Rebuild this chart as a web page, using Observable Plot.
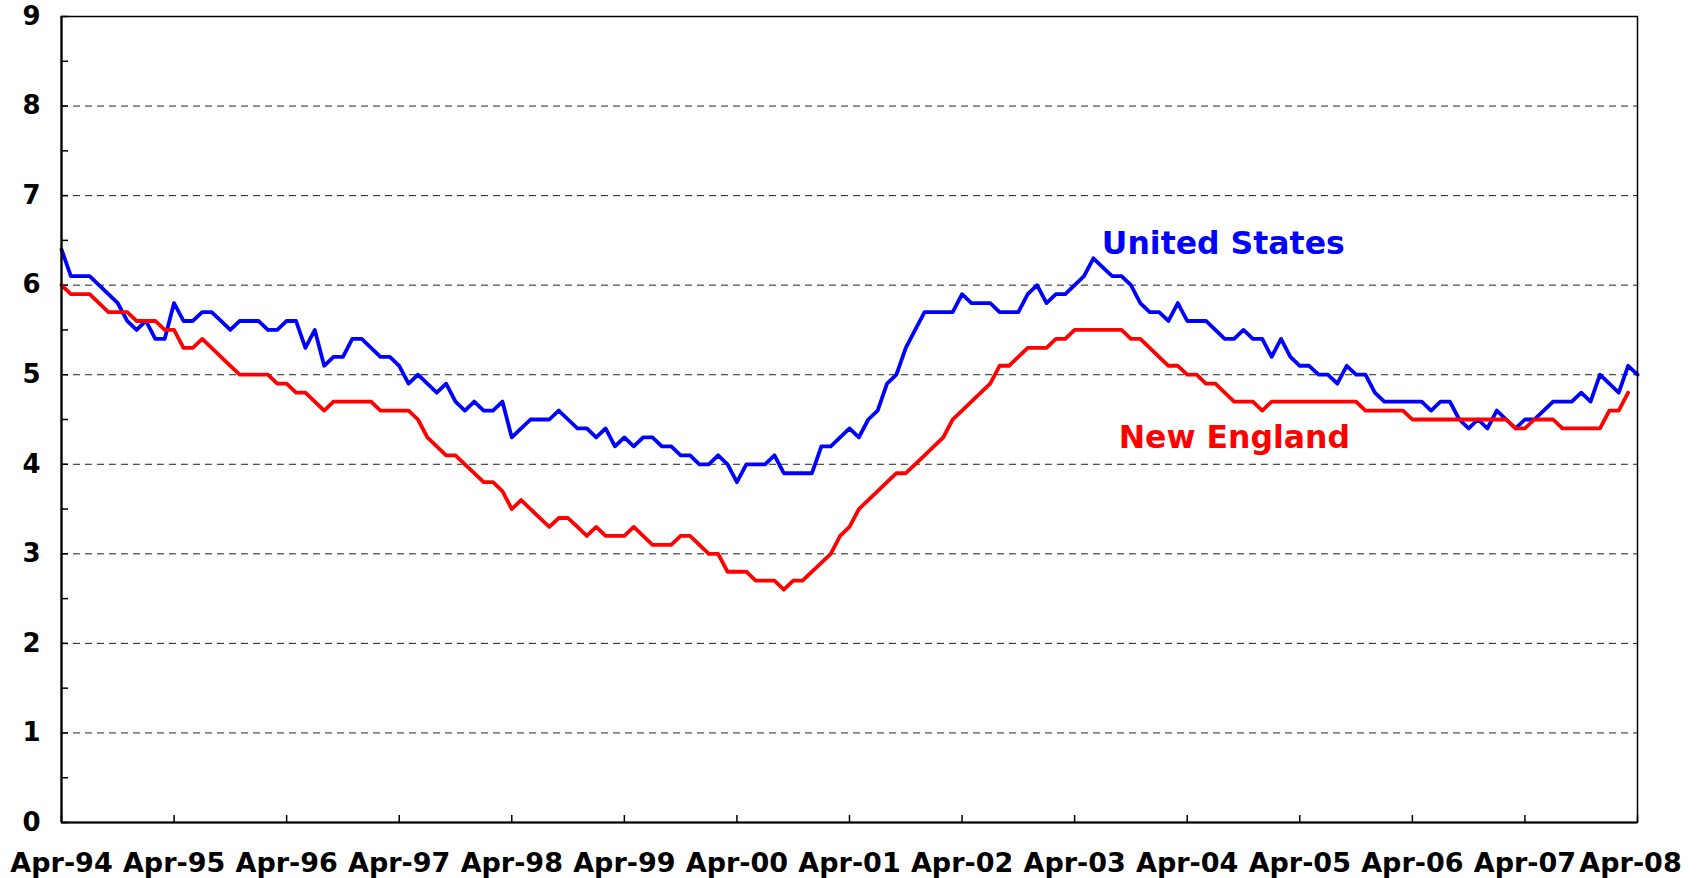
<!DOCTYPE html>
<html>
<head>
<meta charset="utf-8">
<script src="https://cdn.jsdelivr.net/npm/d3@7"></script>
<script src="https://cdn.jsdelivr.net/npm/@observablehq/plot@0.6"></script>
<style>
  html, body { margin: 0; padding: 0; background: #ffffff; }
  svg { display: block; }
</style>
</head>
<body>
<div id="chart"></div>
<script>
// Year tick labels (one every 12 months, starting Apr-94)
const tickLabels = ["Apr-94","Apr-95","Apr-96","Apr-97","Apr-98","Apr-99","Apr-00",
  "Apr-01","Apr-02","Apr-03","Apr-04","Apr-05","Apr-06","Apr-07","Apr-08"];

// Monthly unemployment rate, United States, Apr-94 .. Apr-08
const unitedStates = [
  6.4,6.1,6.1,6.1,6.0,5.9,5.8,5.6,5.5,5.6,5.4,5.4,
  5.8,5.6,5.6,5.7,5.7,5.6,5.5,5.6,5.6,5.6,5.5,5.5,
  5.6,5.6,5.3,5.5,5.1,5.2,5.2,5.4,5.4,5.3,5.2,5.2,
  5.1,4.9,5.0,4.9,4.8,4.9,4.7,4.6,4.7,4.6,4.6,4.7,
  4.3,4.4,4.5,4.5,4.5,4.6,4.5,4.4,4.4,4.3,4.4,4.2,
  4.3,4.2,4.3,4.3,4.2,4.2,4.1,4.1,4.0,4.0,4.1,4.0,
  3.8,4.0,4.0,4.0,4.1,3.9,3.9,3.9,3.9,4.2,4.2,4.3,
  4.4,4.3,4.5,4.6,4.9,5.0,5.3,5.5,5.7,5.7,5.7,5.7,
  5.9,5.8,5.8,5.8,5.7,5.7,5.7,5.9,6.0,5.8,5.9,5.9,
  6.0,6.1,6.3,6.2,6.1,6.1,6.0,5.8,5.7,5.7,5.6,5.8,
  5.6,5.6,5.6,5.5,5.4,5.4,5.5,5.4,5.4,5.2,5.4,5.2,
  5.1,5.1,5.0,5.0,4.9,5.1,5.0,5.0,4.8,4.7,4.7,4.7,
  4.7,4.7,4.6,4.7,4.7,4.5,4.4,4.5,4.4,4.6,4.5,4.4,
  4.5,4.5,4.6,4.7,4.7,4.7,4.8,4.7,5.0,4.9,4.8,5.1,
  5.0
];

// Monthly unemployment rate, New England, Apr-94 .. Mar-08
const newEngland = [
  6.0,5.9,5.9,5.9,5.8,5.7,5.7,5.7,5.6,5.6,5.6,5.5,
  5.5,5.3,5.3,5.4,5.3,5.2,5.1,5.0,5.0,5.0,5.0,4.9,
  4.9,4.8,4.8,4.7,4.6,4.7,4.7,4.7,4.7,4.7,4.6,4.6,
  4.6,4.6,4.5,4.3,4.2,4.1,4.1,4.0,3.9,3.8,3.8,3.7,
  3.5,3.6,3.5,3.4,3.3,3.4,3.4,3.3,3.2,3.3,3.2,3.2,
  3.2,3.3,3.2,3.1,3.1,3.1,3.2,3.2,3.1,3.0,3.0,2.8,
  2.8,2.8,2.7,2.7,2.7,2.6,2.7,2.7,2.8,2.9,3.0,3.2,
  3.3,3.5,3.6,3.7,3.8,3.9,3.9,4.0,4.1,4.2,4.3,4.5,
  4.6,4.7,4.8,4.9,5.1,5.1,5.2,5.3,5.3,5.3,5.4,5.4,
  5.5,5.5,5.5,5.5,5.5,5.5,5.4,5.4,5.3,5.2,5.1,5.1,
  5.0,5.0,4.9,4.9,4.8,4.7,4.7,4.7,4.6,4.7,4.7,4.7,
  4.7,4.7,4.7,4.7,4.7,4.7,4.7,4.6,4.6,4.6,4.6,4.6,
  4.5,4.5,4.5,4.5,4.5,4.5,4.5,4.5,4.5,4.5,4.5,4.4,
  4.4,4.5,4.5,4.5,4.4,4.4,4.4,4.4,4.4,4.6,4.6,4.8
];

const seriesNames = ["United States", "New England"];
const seriesColors = ["#0000ff", "#ff0000"];

const yTicks = [0,1,2,3,4,5,6,7,8,9];
const yMinorTicks = [0.5,1.5,2.5,3.5,4.5,5.5,6.5,7.5,8.5];

// Annotation positions (month index, value)
const seriesLabels = [
  {name: "United States", month: 110.9, value: 6.46},
  {name: "New England",  month: 112.7, value: 4.29}
];

// Build tidy table
const rows = [
  ...unitedStates.map((v, i) => ({series: seriesNames[0], month: i, value: v})),
  ...newEngland.map((v, i) => ({series: seriesNames[1], month: i, value: v}))
];
const xTicks = tickLabels.map((_, k) => k * 12);
const lastMonth = unitedStates.length - 1;
const fmt = i => tickLabels[Math.round(i / 12)];

const chart = Plot.plot({
  width: 1698,
  height: 878,
  marginLeft: 61,
  marginRight: 61,
  marginTop: 16,
  marginBottom: 56,
  style: {
    fontFamily: "'DejaVu Sans', Verdana, sans-serif",
    fontWeight: "bold",
    fontSize: "26px",
    color: "#000000",
    background: "#ffffff"
  },
  x: {type: "linear", domain: [0, lastMonth], axis: null, label: null},
  y: {domain: [0, 9], axis: null, label: null},
  color: {domain: seriesNames, range: seriesColors},
  marks: [
    Plot.gridY({ticks: yTicks.slice(1, -1), stroke: "#222222", strokeOpacity: 1, strokeWidth: 1, strokeDasharray: "7,5"}),
    Plot.axisY({ticks: yMinorTicks.concat(yTicks), tickSize: -7, tickFormat: () => "", strokeWidth: 1.5, label: null}),
    Plot.axisY({ticks: yTicks, tickSize: 0, tickPadding: 21, fontSize: 26, fontWeight: "bold", label: null}),
    Plot.axisX({ticks: xTicks, tickSize: -7, tickFormat: () => "", strokeWidth: 1.5, label: null}),
    Plot.axisX({ticks: xTicks.slice(0, -1), tickSize: 0, tickPadding: 30, tickFormat: fmt, fontSize: 27, fontWeight: "bold", label: null}),
    Plot.axisX({ticks: xTicks.slice(-1), tickSize: 0, tickPadding: 30, tickFormat: fmt, fontSize: 27, fontWeight: "bold", dx: -7, label: null}),
    Plot.line(rows, {x: "month", y: "value", z: "series", stroke: "series", strokeWidth: 3.8, strokeLinejoin: "round"}),
    Plot.frame({stroke: "#000000", strokeWidth: 1.5}),
    Plot.ruleX([0], {stroke: "#000000", strokeWidth: 2.2}),
    Plot.ruleY([0], {stroke: "#000000", strokeWidth: 2.2}),
    Plot.text(seriesLabels, {x: "month", y: "value", text: "name", fill: "name", textAnchor: "start", fontSize: 31.5, fontWeight: "bold"})
  ]
});
document.getElementById("chart").appendChild(chart);
</script>
</body>
</html>
